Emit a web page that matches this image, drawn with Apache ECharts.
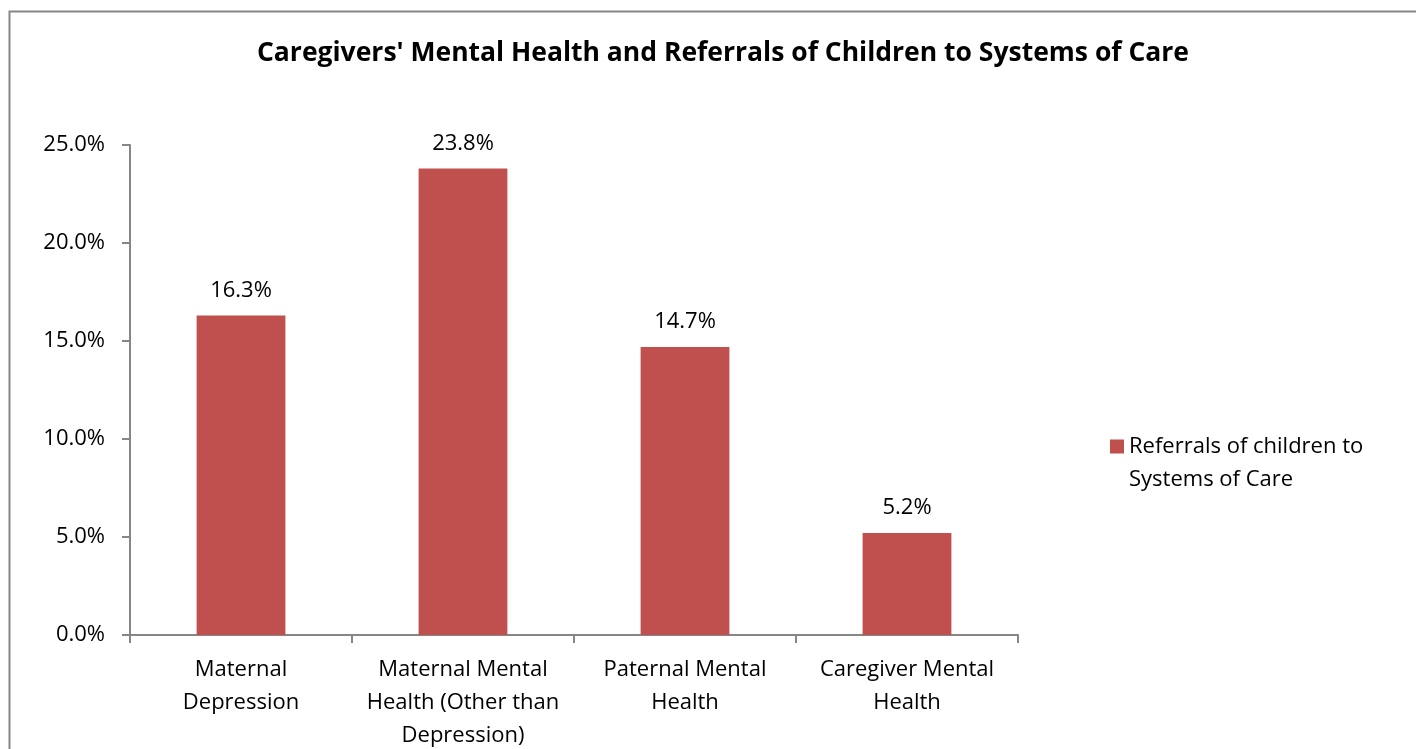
<!DOCTYPE html>
<html>
<head>
<meta charset="utf-8">
<script src="https://cdn.jsdelivr.net/npm/echarts@6/dist/echarts.min.js"></script>
<style>
  html, body { margin: 0; padding: 0; background: #fff; }
  #chart { width: 1416px; height: 749px; }
</style>
</head>
<body>
<div id="chart"></div>
<script>
// Referral rates by caregiver mental-health category
const categories = [
  'Maternal\nDepression',
  'Maternal Mental\nHealth (Other than\nDepression)',
  'Paternal Mental\nHealth',
  'Caregiver Mental\nHealth'
];
const referralRates = [16.3, 23.8, 14.7, 5.2];
const seriesName = 'Referrals of children to Systems of Care';
const titleText = "Caregivers' Mental Health and Referrals of Children to Systems of Care";

const FONT = '"Open Sans", "Noto Sans", sans-serif';
const AXIS_GRAY = '#868686';

// Legend swatch: a 14px square sitting beside the first text line,
// padded with an invisible point so the box spans both lines.
const SWATCH = 'path://M0,0L14,0L14,14L0,14Z M0,47L0.01,47';

const chart = echarts.init(document.getElementById('chart'));
chart.setOption({
  backgroundColor: '#fff',
  animation: false,
  title: {
    text: titleText,
    left: 718,
    top: 35,
    textAlign: 'center',
    textStyle: { fontFamily: FONT, fontSize: 26.5, fontWeight: 'bold', color: '#000' }
  },
  graphic: [{
    type: 'rect',
    shape: { x: 9.5, y: 11.5, width: 1420, height: 760 },
    style: { fill: 'none', stroke: AXIS_GRAY, lineWidth: 2 },
    silent: true
  }],
  legend: {
    left: 1105,
    top: 425,
    orient: 'vertical',
    itemWidth: 14,
    itemHeight: 47,
    icon: SWATCH,
    formatter: () => 'Referrals of children to\nSystems of Care',
    textStyle: {
      fontFamily: FONT, fontSize: 22, color: '#000', lineHeight: 33
    }
  },
  grid: { left: 130, right: 398, top: 145, bottom: 114, outerBoundsMode: 'none' },
  xAxis: {
    type: 'category',
    data: categories,
    axisLine: { lineStyle: { color: AXIS_GRAY, width: 2 } },
    axisTick: { show: true, length: 8, lineStyle: { color: AXIS_GRAY, width: 2 } },
    axisLabel: {
      fontFamily: FONT, fontSize: 22, color: '#000', lineHeight: 33,
      margin: 18, interval: 0
    }
  },
  yAxis: {
    type: 'value',
    min: 0,
    max: 25,
    interval: 5,
    splitLine: { show: false },
    axisLine: { show: true, lineStyle: { color: AXIS_GRAY, width: 2 } },
    axisTick: { show: true, length: 8, lineStyle: { color: AXIS_GRAY, width: 2 } },
    axisLabel: {
      fontFamily: FONT, fontSize: 22, color: '#000', margin: 25,
      formatter: v => v.toFixed(1) + '%'
    }
  },
  series: [{
    name: seriesName,
    type: 'bar',
    data: referralRates,
    barWidth: '40%',
    itemStyle: { color: '#C0504D' },
    label: {
      show: true,
      position: 'top',
      distance: 14,
      fontFamily: FONT, fontSize: 22, color: '#000',
      formatter: p => p.value.toFixed(1) + '%'
    }
  }]
});
</script>
</body>
</html>
